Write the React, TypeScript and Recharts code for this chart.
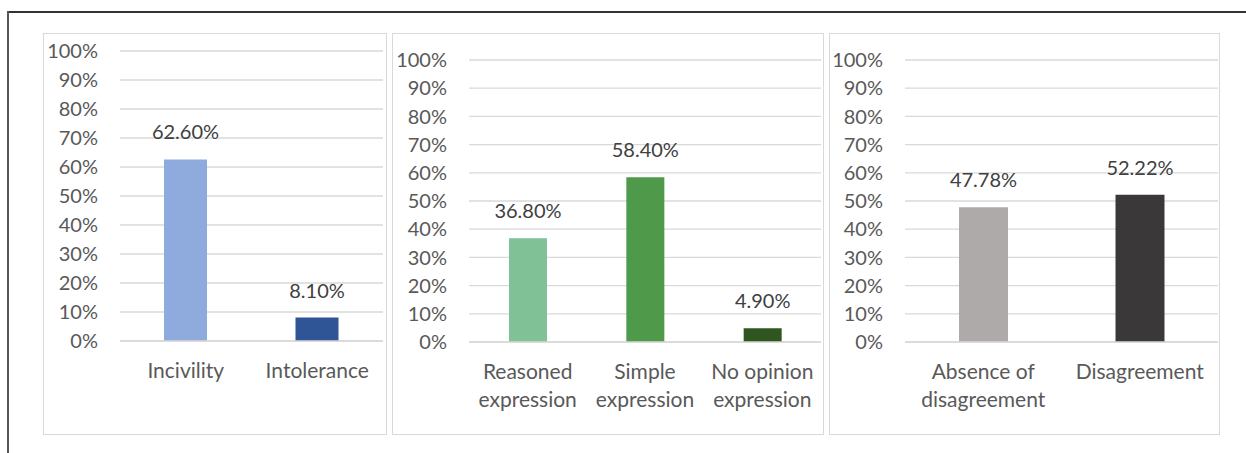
import { Bar, BarChart, CartesianGrid, Cell, LabelList, XAxis, YAxis } from "recharts"

// Panel 1: offensive content
const toneCategories = ["Incivility", "Intolerance"]
const toneValues = [62.6, 8.1]
const toneColors = ["#8faadc", "#2f5597"]

// Panel 2: type of expression
const exprCategories = ["Reasoned\nexpression", "Simple\nexpression", "No opinion\nexpression"]
const exprValues = [36.8, 58.4, 4.9]
const exprColors = ["#80c196", "#4e9a4a", "#2e561e"]

// Panel 3: disagreement
const disCategories = ["Absence of\ndisagreement", "Disagreement"]
const disValues = [47.78, 52.22]
const disColors = ["#aeaaaa", "#3a3838"]

const yTicks = [0, 10, 20, 30, 40, 50, 60, 70, 80, 90, 100]

const FONT = "Lato, 'Open Sans', sans-serif"
const GRID = "#d9d9d9"
const TICK = "#595959"

function CatTick(props: any) {
  const { x, y, payload } = props
  const lines = String(payload.value).split("\n")
  return (
    <text x={x} y={y} textAnchor="middle" fill={TICK} fontSize={21} fontFamily={FONT}>
      {lines.map((l, i) => (
        <tspan key={i} x={x} dy={i === 0 ? 37 : 28}>
          {l}
        </tspan>
      ))}
    </text>
  )
}

type PanelProps = {
  left: number
  width: number
  top: number
  categories: string[]
  values: number[]
  colors: string[]
  yAxisWidth: number
  marginTop: number
  marginRight: number
  marginBottom: number
  barSize: number
}

function Panel(p: PanelProps) {
  const data = p.categories.map((c, i) => ({ name: c, value: p.values[i] }))
  const height = 402
  return (
    <div
      style={{
        position: "absolute",
        left: p.left,
        top: p.top,
        width: p.width,
        height,
        boxSizing: "border-box",
        border: `1px solid ${GRID}`,
      }}
    >
      <div style={{ position: "absolute", left: -1, top: -1 }}>
        <BarChart
          width={p.width}
          height={height}
          data={data}
          margin={{ top: p.marginTop, right: p.marginRight, left: 0, bottom: p.marginBottom }}
        >
          <CartesianGrid vertical={false} stroke={GRID} strokeWidth={1.3} />
          <XAxis
            dataKey="name"
            axisLine={{ stroke: GRID, strokeWidth: 1.3 }}
            tickLine={false}
            tickSize={0}
            tickMargin={0}
            height={60}
            interval={0}
            tick={<CatTick />}
          />
          <YAxis
            domain={[0, 100]}
            ticks={yTicks}
            width={p.yAxisWidth}
            axisLine={false}
            tickLine={false}
            tickMargin={16}
            interval={0}
            tickFormatter={(v) => `${v}%`}
            tick={{ fill: TICK, fontSize: 20, fontFamily: FONT }}
          />
          <Bar dataKey="value" barSize={p.barSize} isAnimationActive={false}>
            {data.map((d, i) => (
              <Cell key={d.name} fill={p.colors[i]} />
            ))}
            <LabelList
              dataKey="value"
              position="top"
              offset={20}
              formatter={(v: any) => `${Number(v).toFixed(2)}%`}
              style={{ fill: "#404040", fontSize: 20, fontFamily: FONT }}
            />
          </Bar>
        </BarChart>
      </div>
    </div>
  )
}

export default function App() {
  return (
    <div
      style={{
        position: "absolute",
        left: 0,
        top: 0,
        width: 1246,
        height: 453,
        background: "#ffffff",
        overflow: "hidden",
      }}
    >
      <div style={{ position: "absolute", left: 8, top: 11, width: 1238, height: 1.5, background: "#333333" }} />
      <div style={{ position: "absolute", left: 7, top: 11, width: 1.5, height: 442, background: "#555555" }} />
      <Panel
        left={43}
        top={33}
        width={344}
        categories={toneCategories}
        values={toneValues}
        colors={toneColors}
        yAxisWidth={77}
        marginTop={18}
        marginRight={4}
        marginBottom={34}
        barSize={43}
      />
      <Panel
        left={392}
        top={33}
        width={432}
        categories={exprCategories}
        values={exprValues}
        colors={exprColors}
        yAxisWidth={77}
        marginTop={27}
        marginRight={3}
        marginBottom={33}
        barSize={38}
      />
      <Panel
        left={829}
        top={33}
        width={391}
        categories={disCategories}
        values={disValues}
        colors={disColors}
        yAxisWidth={76}
        marginTop={27}
        marginRight={2}
        marginBottom={33}
        barSize={49}
      />
    </div>
  )
}
